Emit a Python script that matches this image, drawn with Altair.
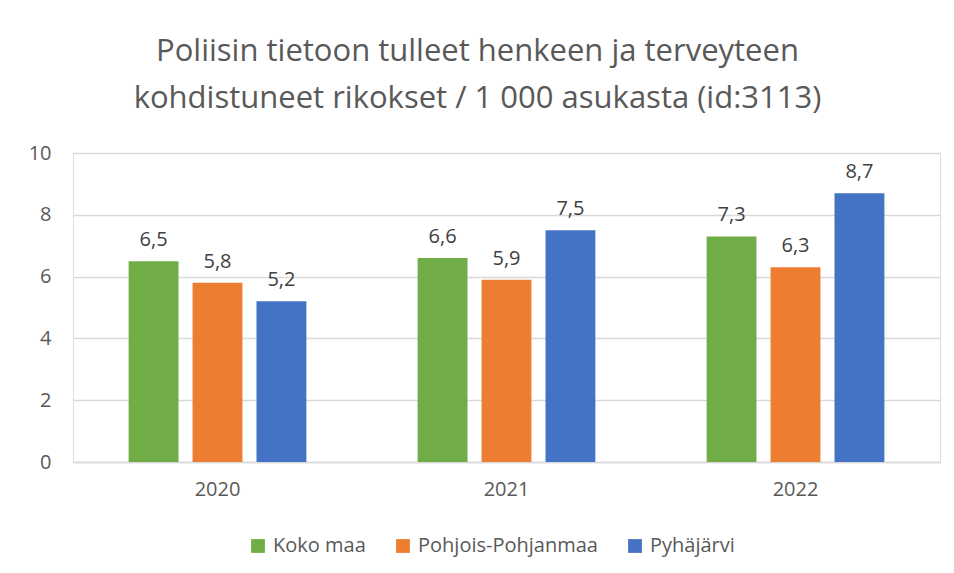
import altair as alt
import pandas as pd

years = ["2020", "2021", "2022"]
series = ["Koko maa", "Pohjois-Pohjanmaa", "Pyhäjärvi"]
koko_maa = [6.5, 6.6, 7.3]
pohjois_pohjanmaa = [5.8, 5.9, 6.3]
pyhajarvi = [5.2, 7.5, 8.7]
colors = ["#70AD47", "#ED7D31", "#4472C4"]

rows = []
for i, y in enumerate(years):
    for s, vals in zip(series, [koko_maa, pohjois_pohjanmaa, pyhajarvi]):
        v = vals[i]
        rows.append({"Vuosi": y, "Sarja": s, "Arvo": v,
                     "Label": f"{v:.1f}".replace(".", ",")})
df = pd.DataFrame(rows)

FONT = "Open Sans"
TXT = "#595959"

base = alt.Chart(df).encode(
    x=alt.X("Vuosi:N", sort=years, title=None,
            scale=alt.Scale(paddingInner=0, paddingOuter=0),
            axis=alt.Axis(labelAngle=0, domain=True, domainColor="#d9d9d9",
                          domainWidth=1.5,
                          ticks=False, labelFontSize=20, labelColor=TXT,
                          labelFont=FONT, labelPadding=17)),
    xOffset=alt.XOffset("Sarja:N", sort=series,
                        scale=alt.Scale(paddingInner=0.22, paddingOuter=0.87)),
)

bars = base.mark_bar().encode(
    y=alt.Y("Arvo:Q", title=None,
            scale=alt.Scale(domain=[0, 10]),
            axis=alt.Axis(values=[0, 2, 4, 6, 8, 10], domain=False, ticks=False,
                          labelFontSize=20, labelColor=TXT, labelFont=FONT,
                          labelPadding=22, gridColor="#d9d9d9", gridWidth=1.5)),
    color=alt.Color("Sarja:N", sort=series,
                    scale=alt.Scale(domain=series, range=colors),
                    legend=alt.Legend(orient="none", legendX=175, legendY=383,
                                      direction="horizontal",
                                      title=None, symbolType="square",
                                      symbolSize=190, symbolStrokeWidth=0,
                                      labelFontSize=20, labelColor=TXT,
                                      labelFont=FONT, columnPadding=27,
                                      labelOffset=5, labelLimit=0)),
)

labels = base.mark_text(baseline="alphabetic", dy=-15, fontSize=20,
                        font=FONT, color="#404040").encode(
    y=alt.Y("Arvo:Q"),
    text="Label:N",
)

chart = alt.layer(bars, labels).properties(
    width=867,
    height=309,
    title=alt.Title(
        ["Poliisin tietoon tulleet henkeen ja terveyteen",
         "kohdistuneet rikokset / 1 000 asukasta (id:3113)"],
        fontSize=31, font=FONT, fontWeight="normal", color=TXT,
        anchor="middle", dx=-29, offset=28, lineHeight=47),
    autosize=alt.AutoSizeParams(type="none"),
    padding={"left": 65, "top": 145, "right": 6, "bottom": 103},
).configure_view(stroke=None).configure(background="white")

chart.save("out.html", embed_options={"renderer": "svg", "actions": False})
